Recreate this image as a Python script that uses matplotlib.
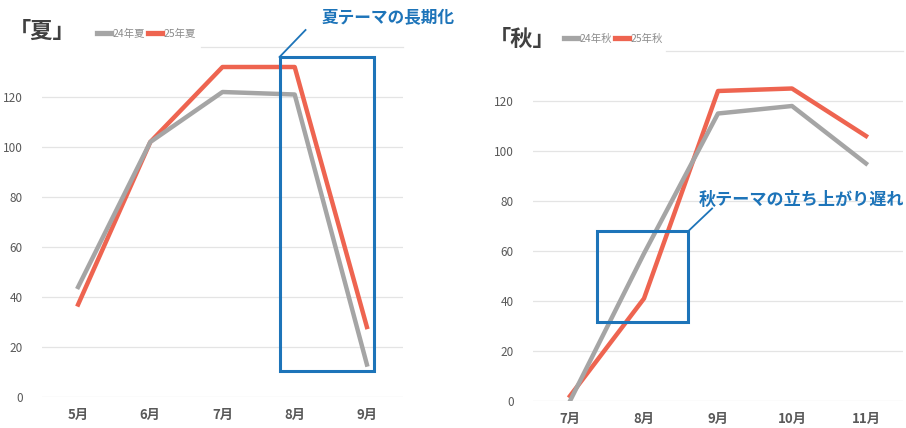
import matplotlib
matplotlib.use("Agg")
from matplotlib import pyplot as plt
from matplotlib.patches import Rectangle

plt.rcParams['font.family'] = ['Noto Sans CJK JP', 'DejaVu Sans']

# データ (夏)
summer_months = ['5月', '6月', '7月', '8月', '9月']
summer_24 = [44, 102, 122, 121, 13]
summer_25 = [37, 102, 132, 132, 28]

# データ (秋)
autumn_months = ['7月', '8月', '9月', '10月', '11月']
autumn_24 = [0, 59, 115, 118, 95]
autumn_25 = [2, 41, 124, 125, 106]

yticks = [0, 20, 40, 60, 80, 100, 120]

GREY = '#a5a5a5'
RED = '#ee6450'
BLUE = '#1d74b9'
TXT = '#595959'
GRID = '#e4e4e4'

fig = plt.figure(figsize=(9.06, 4.28), dpi=100)

def setup(ax, months, top_start):
    ax.set_xlim(-0.5, len(months) - 0.5)
    ax.set_ylim(0, 140)
    ax.set_xticks(range(len(months)))
    ax.set_xticklabels(months, fontsize=9.5, fontweight='bold', color=TXT)
    ax.set_yticks(yticks)
    ax.set_yticklabels([str(v) for v in yticks], fontsize=8.5, color=TXT)
    ax.tick_params(length=0)
    ax.tick_params(axis='y', pad=14)
    ax.tick_params(axis='x', pad=8)
    for s in ax.spines.values():
        s.set_visible(False)
    for v in yticks:
        ax.axhline(v, color=GRID, lw=0.9, zorder=0)
    ax.axhline(140, xmin=top_start, color=GRID, lw=0.9, zorder=0, clip_on=False)

def legend(ax, y):
    leg = ax.legend(loc='center left', bbox_to_anchor=y,
                    bbox_transform=fig.transFigure, ncol=2, frameon=False,
                    fontsize=7.5, labelcolor='#8c8c8c', handlelength=1.3,
                    handletextpad=0.15, columnspacing=0.3)
    for ln in leg.get_lines():
        ln.set_linewidth(3.8)

# 左: 夏
ax1 = fig.add_axes([42/906, 31/428, 361/906, 350/428])
setup(ax1, summer_months, 0.44)
ax1.plot(range(5), summer_24, color=GREY, lw=3.2, label='24年夏', zorder=3)
ax1.plot(range(5), summer_25, color=RED, lw=3.2, label='25年夏', zorder=2)
ax1.add_patch(Rectangle((2.79, 10.4), 4.1 - 2.79, 136 - 10.4, fill=False,
                        edgecolor=BLUE, lw=2.2, zorder=4, clip_on=False))
ax1.plot([2.79, 3.15], [136, 146.8], color=BLUE, lw=1.3, clip_on=False)
fig.text(388/906, 1 - 18/428, '夏テーマの長期化', color=BLUE, fontsize=12,
         fontweight='bold', ha='center', va='center')
fig.text(9/906, 1 - 31/428, '「夏」', color='#404040', fontsize=16,
         fontweight='bold', ha='left', va='center')
legend(ax1, (88/906, 1 - 34/428))

# 右: 秋
ax2 = fig.add_axes([533/906, 27/428, 370/906, 350/428])
setup(ax2, autumn_months, 0.36)
ax2.plot(range(5), autumn_24, color=GREY, lw=3.2, label='24年秋', zorder=3)
ax2.plot(range(5), autumn_25, color=RED, lw=3.2, label='25年秋', zorder=2)
ax2.add_patch(Rectangle((0.36, 31.6), 1.6 - 0.36, 68 - 31.6, fill=False,
                        edgecolor=BLUE, lw=2.2, zorder=4))
ax2.plot([1.6, 1.92], [68, 77], color=BLUE, lw=1.3, clip_on=False)
fig.text(801/906, 1 - 200/428, '秋テーマの立ち上がり遅れ', color=BLUE, fontsize=12.3,
         fontweight='bold', ha='center', va='center')
fig.text(489/906, 1 - 40/428, '「秋」', color='#404040', fontsize=16,
         fontweight='bold', ha='left', va='center')
legend(ax2, (555/906, 1 - 39/428))

fig.savefig('out.png', dpi=100, facecolor='white')
